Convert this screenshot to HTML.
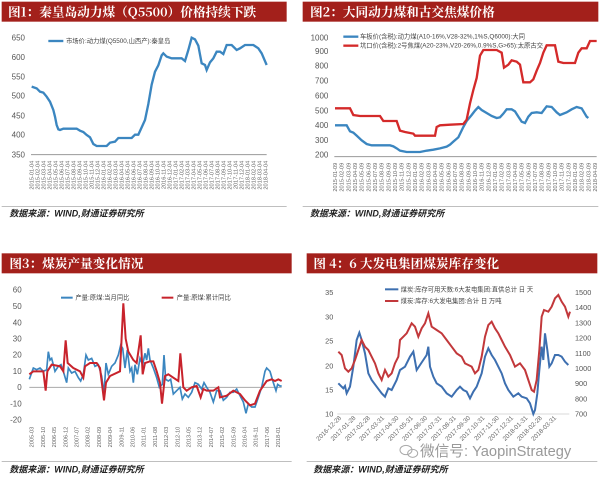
<!DOCTYPE html>
<html><head><meta charset="utf-8"><style>
html,body{margin:0;padding:0;background:#fff;width:600px;height:478px;overflow:hidden}
svg{display:block}
text{font-family:"Liberation Sans","Noto Sans CJK SC",sans-serif}
.t{fill:#fff;font-weight:bold;font-size:38px;font-family:"Noto Serif CJK SC","Liberation Serif",serif}
.s{fill:#222;font-weight:bold;font-style:italic;font-size:27px}
.a{fill:#555;font-size:24px}
.d{fill:#666;font-size:17px}
.l{fill:#444;font-size:19px}
</style></head><body>
<svg width="600" height="478" viewBox="0 0 600 478" xmlns="http://www.w3.org/2000/svg">
<!-- Panel 1 -->
<g transform="scale(0.33333)">
<rect x="5" y="5" width="855" height="60" fill="#a3201b"/>
<text class="t" x="24" y="49">图1：秦皇岛动力煤（Q5500）价格持续下跌</text>
<g class="a" text-anchor="end"><text x="75" y="122">650</text><text x="75" y="180">600</text><text x="75" y="238">550</text><text x="75" y="296">500</text><text x="75" y="355">450</text><text x="75" y="413">400</text><text x="75" y="472">350</text></g>
<line x1="93" y1="464" x2="800" y2="464" stroke="#999" stroke-width="3"/>
<polyline fill="none" stroke="#3b86c0" stroke-width="7" points="95,260 110,265 120,275 130,278 140,290 150,305 160,330 165,350 170,375 175,388 180,390 190,386 230,386 240,392 250,396 260,405 270,412 280,432 290,438 320,438 330,428 345,425 355,414 395,414 405,404 415,404 425,382 435,360 445,312 455,254 465,215 475,196 485,166 490,160 500,170 515,175 545,175 555,183 565,150 575,113 585,118 595,137 605,190 615,195 620,210 630,187 640,175 650,155 660,155 670,162 680,135 695,135 710,150 720,145 735,135 760,135 775,145 785,160 800,195"/>
<line x1="145" y1="123" x2="190" y2="123" stroke="#3b86c0" stroke-width="7"/>
<text class="l" x="198" y="129">市场价:动力煤(Q5500,山西产):秦皇岛</text>
<g class="d" text-anchor="end">
<text transform="translate(101,482) rotate(-90)">2015-01-04</text><text transform="translate(119,482) rotate(-90)">2015-02-04</text><text transform="translate(137,482) rotate(-90)">2015-03-04</text><text transform="translate(155,482) rotate(-90)">2015-04-04</text><text transform="translate(173,482) rotate(-90)">2015-05-04</text><text transform="translate(191,482) rotate(-90)">2015-06-04</text><text transform="translate(209,482) rotate(-90)">2015-07-04</text><text transform="translate(227,482) rotate(-90)">2015-08-04</text><text transform="translate(245,482) rotate(-90)">2015-09-04</text><text transform="translate(263,482) rotate(-90)">2015-10-04</text><text transform="translate(281,482) rotate(-90)">2015-11-04</text><text transform="translate(299,482) rotate(-90)">2015-12-04</text><text transform="translate(317,482) rotate(-90)">2016-01-04</text><text transform="translate(335,482) rotate(-90)">2016-02-04</text><text transform="translate(353,482) rotate(-90)">2016-03-04</text><text transform="translate(371,482) rotate(-90)">2016-04-04</text><text transform="translate(389,482) rotate(-90)">2016-05-04</text><text transform="translate(407,482) rotate(-90)">2016-06-04</text><text transform="translate(425,482) rotate(-90)">2016-07-04</text><text transform="translate(443,482) rotate(-90)">2016-08-04</text><text transform="translate(461,482) rotate(-90)">2016-09-04</text><text transform="translate(479,482) rotate(-90)">2016-10-04</text><text transform="translate(497,482) rotate(-90)">2016-11-04</text><text transform="translate(515,482) rotate(-90)">2016-12-04</text><text transform="translate(533,482) rotate(-90)">2017-01-04</text><text transform="translate(551,482) rotate(-90)">2017-02-04</text><text transform="translate(569,482) rotate(-90)">2017-03-04</text><text transform="translate(587,482) rotate(-90)">2017-04-04</text><text transform="translate(605,482) rotate(-90)">2017-05-04</text><text transform="translate(623,482) rotate(-90)">2017-06-04</text><text transform="translate(641,482) rotate(-90)">2017-07-04</text><text transform="translate(659,482) rotate(-90)">2017-08-04</text><text transform="translate(677,482) rotate(-90)">2017-09-04</text><text transform="translate(695,482) rotate(-90)">2017-10-04</text><text transform="translate(713,482) rotate(-90)">2017-11-04</text><text transform="translate(731,482) rotate(-90)">2017-12-04</text><text transform="translate(749,482) rotate(-90)">2018-01-04</text><text transform="translate(767,482) rotate(-90)">2018-02-04</text><text transform="translate(785,482) rotate(-90)">2018-03-04</text><text transform="translate(803,482) rotate(-90)">2018-04-04</text>
</g>
<line x1="5" y1="620" x2="860" y2="620" stroke="#999" stroke-width="2"/>
<text class="s" x="28" y="650">数据来源：WIND,财通证券研究所</text>
</g>
<!-- Panel 2 -->
<g transform="translate(300,0) scale(0.33333)">
<rect x="8" y="5" width="887" height="60" fill="#a3201b"/>
<text class="t" x="30" y="49">图2：大同动力煤和古交焦煤价格</text>
<g class="a" text-anchor="end"><text x="85" y="122">1000</text><text x="85" y="162">900</text><text x="85" y="206">800</text><text x="85" y="251">700</text><text x="85" y="295">600</text><text x="85" y="340">500</text><text x="85" y="384">400</text><text x="85" y="429">300</text><text x="85" y="473">200</text></g>
<line x1="103" y1="470" x2="890" y2="470" stroke="#999" stroke-width="3"/>
<polyline fill="none" stroke="#3b86c0" stroke-width="7" points="105,376 140,376 150,394 160,398 170,407 185,421 200,432 215,436 270,436 280,439 290,445 300,452 320,456 360,456 380,452 400,449 420,445 440,440 450,434 460,425 475,412 490,381 500,363 515,345 525,332 535,321 545,330 560,339 575,348 590,354 600,352 610,341 620,328 635,328 645,334 655,350 665,365 675,369 685,350 695,339 710,337 725,339 740,319 755,321 770,337 780,345 800,337 815,328 830,321 845,325 860,350 865,354"/>
<polyline fill="none" stroke="#d42a2a" stroke-width="7" points="105,325 150,325 160,345 180,348 240,348 250,363 290,363 300,392 315,396 340,401 345,407 405,407 410,381 420,376 450,374 490,372 500,359 510,310 520,270 530,234 540,167 550,150 590,150 605,158 612,203 625,194 635,181 650,185 660,194 670,247 690,247 700,238 710,212 720,189 730,158 740,136 765,136 775,185 790,189 825,189 835,158 845,145 860,145 870,123 890,123"/>
<line x1="130" y1="110" x2="175" y2="110" stroke="#3b86c0" stroke-width="7"/>
<text class="l" x="180" y="116">车板价(含税):动力煤(A10-16%,V28-32%,1%S,Q6000):大同</text>
<line x1="130" y1="137" x2="175" y2="137" stroke="#d42a2a" stroke-width="7"/>
<text class="l" x="180" y="143">坑口价(含税):2号焦煤(A20-23%,V20-26%,0.9%S,G&gt;65):太原古交</text>
<g class="d" text-anchor="end">
<text transform="translate(111,488) rotate(-90)">2015-01-09</text><text transform="translate(131,488) rotate(-90)">2015-02-09</text><text transform="translate(151,488) rotate(-90)">2015-03-09</text><text transform="translate(171,488) rotate(-90)">2015-04-09</text><text transform="translate(191,488) rotate(-90)">2015-05-09</text><text transform="translate(211,488) rotate(-90)">2015-06-09</text><text transform="translate(231,488) rotate(-90)">2015-07-09</text><text transform="translate(251,488) rotate(-90)">2015-08-09</text><text transform="translate(271,488) rotate(-90)">2015-09-09</text><text transform="translate(291,488) rotate(-90)">2015-10-09</text><text transform="translate(311,488) rotate(-90)">2015-11-09</text><text transform="translate(331,488) rotate(-90)">2015-12-09</text><text transform="translate(351,488) rotate(-90)">2016-01-09</text><text transform="translate(371,488) rotate(-90)">2016-02-09</text><text transform="translate(391,488) rotate(-90)">2016-03-09</text><text transform="translate(411,488) rotate(-90)">2016-04-09</text><text transform="translate(431,488) rotate(-90)">2016-05-09</text><text transform="translate(451,488) rotate(-90)">2016-06-09</text><text transform="translate(471,488) rotate(-90)">2016-07-09</text><text transform="translate(491,488) rotate(-90)">2016-08-09</text><text transform="translate(511,488) rotate(-90)">2016-09-09</text><text transform="translate(531,488) rotate(-90)">2016-10-09</text><text transform="translate(551,488) rotate(-90)">2016-11-09</text><text transform="translate(571,488) rotate(-90)">2016-12-09</text><text transform="translate(591,488) rotate(-90)">2017-01-09</text><text transform="translate(611,488) rotate(-90)">2017-02-09</text><text transform="translate(631,488) rotate(-90)">2017-03-09</text><text transform="translate(651,488) rotate(-90)">2017-04-09</text><text transform="translate(671,488) rotate(-90)">2017-05-09</text><text transform="translate(691,488) rotate(-90)">2017-06-09</text><text transform="translate(711,488) rotate(-90)">2017-07-09</text><text transform="translate(731,488) rotate(-90)">2017-08-09</text><text transform="translate(751,488) rotate(-90)">2017-09-09</text><text transform="translate(771,488) rotate(-90)">2017-10-09</text><text transform="translate(791,488) rotate(-90)">2017-11-09</text><text transform="translate(811,488) rotate(-90)">2017-12-09</text><text transform="translate(831,488) rotate(-90)">2018-01-09</text><text transform="translate(851,488) rotate(-90)">2018-02-09</text><text transform="translate(871,488) rotate(-90)">2018-03-09</text><text transform="translate(891,488) rotate(-90)">2018-04-09</text>
</g>
<line x1="8" y1="620" x2="895" y2="620" stroke="#999" stroke-width="2"/>
<text class="s" x="30" y="650">数据来源：WIND,财通证券研究所</text>
</g>
<!-- Panel 3 -->
<g transform="translate(0,240) scale(0.33333)">
<rect x="5" y="40" width="870" height="60" fill="#a3201b"/>
<text class="t" x="28" y="84">图3：煤炭产量变化情况</text>
<g class="a" text-anchor="end"><text x="65" y="158">60</text><text x="65" y="207">50</text><text x="65" y="256">40</text><text x="65" y="305">30</text><text x="65" y="353">20</text><text x="65" y="402">10</text><text x="65" y="450">0</text><text x="65" y="499">-10</text><text x="65" y="548">-20</text></g>
<line x1="88" y1="442" x2="845" y2="442" stroke="#aaa" stroke-width="3"/>
<polyline fill="none" stroke="#3b86c0" stroke-width="5" points="88,418 100,384 110,389 120,384 130,394 140,389 145,335 150,360 155,355 165,394 175,379 183,374 190,394 200,428 205,384 215,399 225,394 235,413 242,423 250,403 258,345 265,360 275,355 285,379 295,374 305,408 312,462 318,369 325,403 335,379 345,369 355,345 362,316 368,325 375,384 382,330 390,394 395,384 400,428 405,374 412,403 420,355 428,374 435,340 440,360 445,325 450,360 460,384 470,413 478,442 487,433 492,345 497,418 505,423 512,418 520,462 530,452 540,442 547,477 555,462 565,472 575,457 585,428 595,433 605,447 612,428 620,442 630,457 640,486 650,452 660,452 670,481 680,472 690,457 700,457 710,447 720,467 730,486 738,520 745,491 755,501 765,501 775,472 785,442 795,394 800,384 810,394 820,428 828,452 833,433 840,438 845,438"/>
<polyline fill="none" stroke="#c8232c" stroke-width="6" points="88,403 100,394 130,394 137,452 142,394 155,374 180,379 190,394 197,301 203,369 220,384 240,394 250,413 255,379 270,369 290,369 300,384 312,481 318,428 330,408 360,394 370,190 377,296 385,335 400,360 410,369 422,286 428,403 435,369 450,364 460,364 470,394 480,428 486,491 495,408 505,403 520,413 535,423 541,340 550,442 560,452 575,442 590,438 602,472 610,447 620,452 640,452 655,442 660,472 680,467 700,452 720,462 735,481 750,496 765,491 780,452 800,423 815,418 825,423 835,418 845,423"/>
<line x1="183" y1="173" x2="218" y2="173" stroke="#3b86c0" stroke-width="6"/>
<text class="l" x="226" y="179">产量:原煤:当月同比</text>
<line x1="485" y1="173" x2="520" y2="173" stroke="#c8232c" stroke-width="6"/>
<text class="l" x="530" y="179">产量:原煤:累计同比</text>
<g class="d" text-anchor="end">
<text transform="translate(101,560) rotate(-90)">2005-03</text><text transform="translate(135,560) rotate(-90)">2005-10</text><text transform="translate(168,560) rotate(-90)">2006-05</text><text transform="translate(202,560) rotate(-90)">2006-12</text><text transform="translate(235,560) rotate(-90)">2007-07</text><text transform="translate(269,560) rotate(-90)">2008-02</text><text transform="translate(303,560) rotate(-90)">2008-09</text><text transform="translate(336,560) rotate(-90)">2009-04</text><text transform="translate(370,560) rotate(-90)">2009-11</text><text transform="translate(403,560) rotate(-90)">2010-06</text><text transform="translate(437,560) rotate(-90)">2011-01</text><text transform="translate(471,560) rotate(-90)">2011-08</text><text transform="translate(504,560) rotate(-90)">2012-03</text><text transform="translate(538,560) rotate(-90)">2012-10</text><text transform="translate(571,560) rotate(-90)">2013-05</text><text transform="translate(605,560) rotate(-90)">2013-12</text><text transform="translate(639,560) rotate(-90)">2014-07</text><text transform="translate(672,560) rotate(-90)">2015-02</text><text transform="translate(706,560) rotate(-90)">2015-09</text><text transform="translate(739,560) rotate(-90)">2016-04</text><text transform="translate(773,560) rotate(-90)">2016-11</text><text transform="translate(807,560) rotate(-90)">2017-06</text><text transform="translate(840,560) rotate(-90)">2018-01</text>
</g>
<line x1="5" y1="665" x2="875" y2="665" stroke="#999" stroke-width="2"/>
<text class="s" x="28" y="698">数据来源：WIND,财通证券研究所</text>
</g>
<!-- Panel 4 -->
<g transform="translate(300,240) scale(0.33333)">
<rect x="20" y="40" width="872" height="60" fill="#a3201b"/>
<text class="t" x="40" y="84">图 4：6 大发电集团煤炭库存变化</text>
<g class="a" text-anchor="end" style="font-size:22px"><text x="100" y="165">35</text><text x="100" y="238">30</text><text x="100" y="311">25</text><text x="100" y="386">20</text><text x="100" y="458">15</text><text x="100" y="530">10</text></g>
<g class="a" style="font-size:22px"><text x="825" y="165">1500</text><text x="825" y="210">1400</text><text x="825" y="256">1300</text><text x="825" y="302">1200</text><text x="825" y="348">1100</text><text x="825" y="393">1000</text><text x="825" y="438">900</text><text x="825" y="484">800</text><text x="825" y="530">700</text></g>
<line x1="112" y1="522" x2="808" y2="522" stroke="#ccc" stroke-width="2"/>
<polyline fill="none" stroke="#3d6fb0" stroke-width="6" points="115,430 125,440 130,445 135,438 140,460 150,440 160,380 170,300 178,278 185,300 195,340 205,400 215,420 230,440 245,460 255,470 265,445 275,450 290,420 300,390 315,380 330,350 340,335 350,390 360,375 370,360 380,345 385,320 390,380 400,410 410,430 425,440 440,460 455,470 470,450 480,440 490,450 500,455 510,475 520,455 530,440 545,400 555,350 565,325 575,345 585,360 595,380 605,400 615,430 625,450 640,470 655,460 665,470 680,475 690,490 700,522 705,510 712,460 718,390 725,320 730,360 735,280 742,330 748,380 755,370 765,345 775,345 785,350 795,365 805,375"/>
<polyline fill="none" stroke="#c2383b" stroke-width="6" points="115,335 125,345 135,385 145,395 155,385 165,360 175,330 185,300 195,320 205,330 215,350 225,370 235,400 245,420 255,390 265,410 275,400 285,370 295,350 300,300 310,290 320,280 335,250 345,260 355,290 365,265 375,250 385,220 395,260 410,270 425,280 440,300 455,320 470,340 485,350 495,370 505,375 515,380 525,400 535,390 545,350 555,290 565,255 575,245 585,265 595,280 605,300 615,320 630,345 645,380 660,370 675,390 685,420 695,450 702,455 710,420 718,330 725,230 732,210 745,215 755,200 765,175 775,165 785,185 795,200 805,230 810,215"/>
<line x1="255" y1="148" x2="295" y2="148" stroke="#3d6fb0" stroke-width="6"/>
<text class="l" x="302" y="154">煤炭:库存可用天数:6大发电集团:直供总计 日 天</text>
<line x1="255" y1="183" x2="295" y2="183" stroke="#c2383b" stroke-width="6"/>
<text class="l" x="302" y="189">煤炭:库存:6大发电集团:合计 日 万吨</text>
<g class="d" text-anchor="end" style="font-size:19px">
<text transform="translate(125,535) rotate(-45)">2016-12-28</text><text transform="translate(168,535) rotate(-45)">2017-01-28</text><text transform="translate(211,535) rotate(-45)">2017-02-28</text><text transform="translate(254,535) rotate(-45)">2017-03-31</text><text transform="translate(297,535) rotate(-45)">2017-04-30</text><text transform="translate(340,535) rotate(-45)">2017-05-31</text><text transform="translate(383,535) rotate(-45)">2017-06-30</text><text transform="translate(426,535) rotate(-45)">2017-07-31</text><text transform="translate(469,535) rotate(-45)">2017-08-31</text><text transform="translate(512,535) rotate(-45)">2017-09-30</text><text transform="translate(555,535) rotate(-45)">2017-10-31</text><text transform="translate(598,535) rotate(-45)">2017-11-30</text><text transform="translate(641,535) rotate(-45)">2017-12-31</text><text transform="translate(684,535) rotate(-45)">2018-01-31</text><text transform="translate(727,535) rotate(-45)">2018-02-28</text><text transform="translate(770,535) rotate(-45)">2018-03-31</text>
</g>
<g fill="none" stroke="#aaa" stroke-width="3"><ellipse cx="318" cy="630" rx="18" ry="14"/><ellipse cx="338" cy="640" rx="15" ry="12"/></g>
<text x="360" y="648" style="font-size:44px;fill:#999">微信号: YaopinStrategy</text>
<line x1="20" y1="665" x2="892" y2="665" stroke="#999" stroke-width="2"/>
<text class="s" x="40" y="698">数据来源：WIND,财通证券研究所</text>
</g>
</svg>
</body></html>
